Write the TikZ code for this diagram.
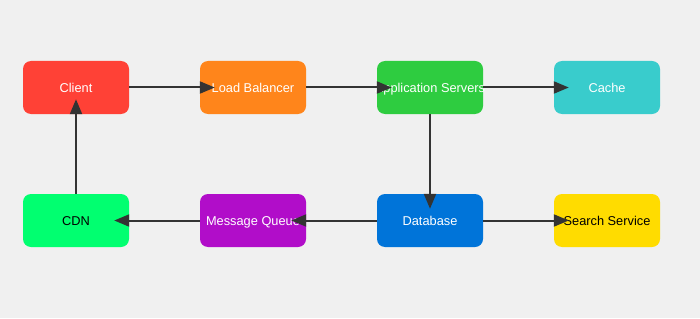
\documentclass[tikz,border=0pt]{standalone}
\usepackage{fontspec}
\setmainfont{Liberation Sans}
\usetikzlibrary{arrows.meta}
\definecolor{bg}{HTML}{F0F0F0}
\definecolor{cred}{HTML}{FF4136}
\definecolor{corange}{HTML}{FF851B}
\definecolor{cgreen}{HTML}{2ECC40}
\definecolor{cteal}{HTML}{39CCCC}
\definecolor{clime}{HTML}{01FF70}
\definecolor{cpurple}{HTML}{B10DC9}
\definecolor{cblue}{HTML}{0074D9}
\definecolor{cyellow}{HTML}{FFDC00}
\definecolor{cline}{HTML}{333333}
\tikzset{
  box/.style={rectangle, rounded corners=8pt, minimum width=106pt, minimum height=53pt, inner sep=0pt, font=\fontsize{12.8pt}{14pt}\selectfont},
  conn/.style={draw=cline, line width=2pt, -{Triangle[length=15pt,width=12pt]}, shorten >=-15pt}
}
\newcommand{\boxtxt}[1]{\raisebox{-4.6pt}[0pt][0pt]{\makebox[0pt]{#1}}}
\begin{document}
\begin{tikzpicture}[x=1pt,y=-1pt]
\fill[bg] (0,0) rectangle (700,318);
\useasboundingbox (0,0) rectangle (700,318);
\node[box, fill=cred, text=white] (client) at (76,87.5) {\boxtxt{Client}};
\node[box, fill=corange, text=white] (lb) at (253,87.5) {\boxtxt{Load Balancer}};
\node[box, fill=cgreen, text=white] (app) at (430,87.5) {\boxtxt{Application Servers}};
\node[box, fill=cteal, text=white] (cache) at (607,87.5) {\boxtxt{Cache}};
\node[box, fill=clime, text=black] (cdn) at (76,220.5) {\boxtxt{CDN}};
\node[box, fill=cpurple, text=white] (mq) at (253,220.5) {\boxtxt{Message Queue}};
\node[box, fill=cblue, text=white] (db) at (430,220.5) {\boxtxt{Database}};
\node[box, fill=cyellow, text=black] (search) at (607,220.5) {\boxtxt{Search Service}};
\draw[conn] (client) -- (lb);
\draw[conn] (lb) -- (app);
\draw[conn] (app) -- (cache);
\draw[conn] (app) -- (db);
\draw[conn] (db) -- (mq);
\draw[conn] (mq) -- (cdn);
\draw[conn] (cdn) -- (client);
\draw[conn] (db) -- (search);
\end{tikzpicture}
\end{document}
